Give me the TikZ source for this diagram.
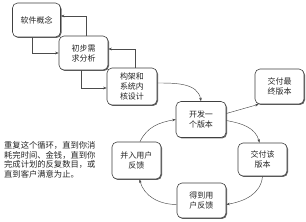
\documentclass[tikz,border=0pt]{standalone}
\usepackage{fontspec}
\setmainfont{Noto Sans CJK SC}
\usetikzlibrary{arrows.meta,shadows}
\begin{document}
\begin{tikzpicture}[x=1pt,y=-1pt,
  box/.style={draw=black!75, line width=0.6pt, rounded corners=5pt, fill=white,
    drop shadow={shadow xshift=1pt, shadow yshift=-1pt, fill=black!60, opacity=1},
    align=center, font=\fontsize{8}{10}\selectfont, text=black!85, inner sep=1pt},
  conn/.style={draw=black!70, line width=0.45pt, -{Stealth[length=3.5pt,width=2.6pt]}}]
\path[use as bounding box, fill=white] (0,0) rectangle (306,222);

\node[box, minimum width=48pt, minimum height=34pt] (A) at (36.5,20) {软件概念};
\node[box, minimum width=49pt, minimum height=34pt] (B) at (83.5,53) {初步需\\求分析};
\node[box, minimum width=50pt, minimum height=37pt] (C) at (132,86.5) {构架和\\系统内\\核设计};
\node[box, minimum width=50pt, minimum height=36pt] (D) at (201,119.5) {开发一\\个版本};
\node[box, minimum width=49pt, minimum height=35pt] (E) at (279.5,86.5) {交付最\\终版本};
\node[box, minimum width=49pt, minimum height=33pt] (F) at (262.5,159.5) {交付该\\版本};
\node[box, minimum width=49pt, minimum height=35pt] (G) at (201.5,200.5) {得到用\\户反馈};
\node[box, minimum width=49pt, minimum height=37pt] (H) at (136.5,160.5) {并入用户\\反馈};

\node[anchor=north west, align=left, inner sep=0pt, text=black!85,
  font=\fontsize{8.3}{9.8}\selectfont] (T) at (4,141)
  {重复这个循环，直到你消\\耗完时间、金钱，直到你\\完成计划的反复数目，或\\直到客户满意为止。};

\draw[conn] ([xshift=-4.5pt]A.south) |- (B.west);
\draw[conn] ([xshift=2.5pt]B.north) |- ([yshift=4pt]A.east);
\draw[conn] ([xshift=-2pt]B.south) |- ([yshift=-1.5pt]C.west);
\draw[conn] ([xshift=3pt]C.north) |- ([yshift=4pt]B.east);

\draw[conn] ([yshift=3.5pt]C.east) to[out=0, in=100] (D.north);
\draw[conn] ([yshift=6pt]D.east) -- ([xshift=4pt]E.south west);
\draw[conn] ([yshift=-1pt]D.east) to[out=-10, in=105] ([xshift=-3pt]F.north);
\draw[conn] (F.south) to[out=-95, in=10] ([yshift=-4pt]G.east);
\draw[conn] ([yshift=-4pt]G.west) to[out=180, in=-75] ([xshift=3pt]H.south);
\draw[conn] ([xshift=3.5pt]H.north) to[out=65, in=190] (D.west);
\end{tikzpicture}
\end{document}
